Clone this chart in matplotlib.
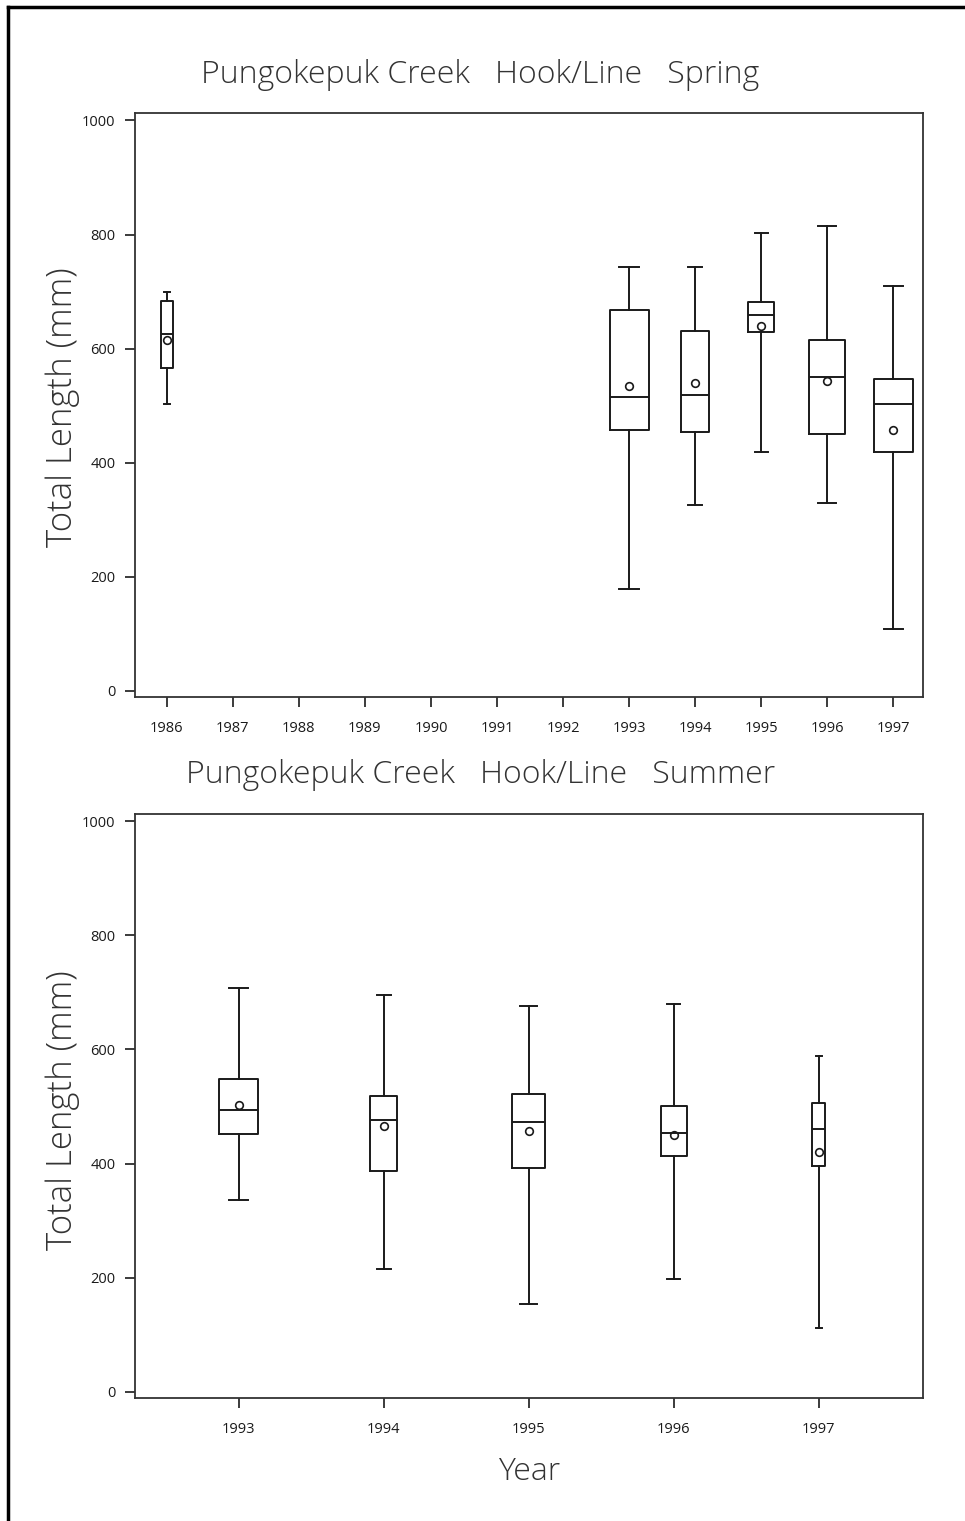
import matplotlib.pyplot as plt
from matplotlib.lines import Line2D

# Spring, hook/line, Pungokepuk Creek
spring_years = [1986, 1993, 1994, 1995, 1996, 1997]
spring_whislo = [503, 178, 326, 418, 329, 109]
spring_q1 = [566, 457, 453, 629, 450, 418]
spring_med = [626, 515, 519, 659, 551, 503]
spring_q3 = [683, 667, 631, 681, 615, 546]
spring_whishi = [700, 743, 743, 802, 815, 709]
spring_mean = [615, 535, 539, 640, 543, 458]
spring_widths = [0.18, 0.59, 0.42, 0.39, 0.55, 0.59]
spring_ticks = list(range(1986, 1998))

# Summer
summer_years = [1993, 1994, 1995, 1996, 1997]
summer_whislo = [337, 216, 154, 197, 112]
summer_q1 = [451, 387, 392, 414, 396]
summer_med = [493, 477, 472, 454, 461]
summer_q3 = [548, 518, 521, 500, 506]
summer_whishi = [707, 696, 676, 679, 589]
summer_mean = [503, 466, 457, 450, 421]
summer_widths = [0.27, 0.19, 0.23, 0.18, 0.085]
summer_ticks = summer_years

ink = "#1a1a1a"
grey = "#333333"
fam = ["Open Sans", "DejaVu Sans"]
H = 1521.0


def make_stats(lo, q1, med, q3, hi, mean):
    out = []
    for a, b, c, d, e, m in zip(lo, q1, med, q3, hi, mean):
        out.append(dict(whislo=a, q1=b, med=c, q3=d, whishi=e, mean=m, fliers=[]))
    return out


def draw_panel(ax, stats, years, widths, ticks, xlim):
    props = dict(color=ink, linewidth=1.4)
    ax.bxp(stats, positions=years, widths=widths, showmeans=True,
           boxprops=props, whiskerprops=props, capprops=props,
           medianprops=props, capwidths=[w * 0.5 for w in widths],
           meanprops=dict(marker="o", markerfacecolor="none",
                          markeredgecolor=ink, markersize=5.5, markeredgewidth=1.2),
           manage_ticks=False)
    ax.set_xlim(*xlim)
    ax.set_ylim(-10.5, 1013)
    ax.set_yticks(range(0, 1001, 200))
    ax.set_xticks(ticks)
    ax.set_xticklabels([str(t) for t in ticks], fontsize=10.5, family=fam, color=ink)
    ax.set_yticklabels([str(t) for t in range(0, 1001, 200)], fontsize=10.5,
                       family=fam, color=ink)
    ax.tick_params(direction="out", length=7, width=1.2, color=ink)
    ax.tick_params(axis="x", pad=10)
    ax.tick_params(axis="y", pad=7)
    for s in ax.spines.values():
        s.set_color(grey)
        s.set_linewidth(1.3)


fig = plt.figure(figsize=(9.65, 15.21), dpi=100)
ax1 = fig.add_axes([0.1399, 0.5418, 0.8166, 0.3839])
ax2 = fig.add_axes([0.1399, 0.0809, 0.8166, 0.3842])

draw_panel(ax1, make_stats(spring_whislo, spring_q1, spring_med, spring_q3,
                           spring_whishi, spring_mean),
           spring_years, spring_widths, spring_ticks, (1985.52, 1997.45))
draw_panel(ax2, make_stats(summer_whislo, summer_q1, summer_med, summer_q3,
                           summer_whishi, summer_mean),
           summer_years, summer_widths, summer_ticks, (1992.285, 1997.72))

txt = dict(fontsize=23, family=fam, fontweight="light", color=grey)
fig.text(480 / 965, 1 - 83 / H, "Pungokepuk Creek   Hook/Line   Spring",
         ha="center", va="baseline", **txt)
fig.text(481 / 965, 1 - 783 / H, "Pungokepuk Creek   Hook/Line   Summer",
         ha="center", va="baseline", **txt)
ylab = dict(txt, fontsize=25)
fig.text(63 / 965, 1 - 407 / H, "Total Length (mm)", rotation=90,
         ha="center", va="center", **ylab)
fig.text(63 / 965, 1 - 1110 / H, "Total Length (mm)", rotation=90,
         ha="center", va="center", **ylab)
fig.text(529 / 965, 1 - 1472 / H, "Year", ha="center", va="center", **txt)

# frame around the picture (left and top edges visible)
fig.add_artist(Line2D([8 / 965, 8 / 965], [0, 1 - 7 / H], color="black",
                      linewidth=2.5, transform=fig.transFigure))
fig.add_artist(Line2D([8 / 965, 1], [1 - 7 / H, 1 - 7 / H], color="black",
                      linewidth=2.5, transform=fig.transFigure))

fig.savefig("out.png", dpi=100)
